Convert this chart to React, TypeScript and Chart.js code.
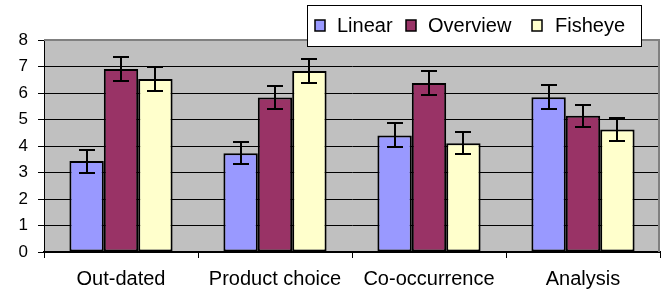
import React, { useEffect, useRef } from "react";
import { Chart, registerables } from "chart.js";

Chart.register(...registerables);

const categories = ["Out-dated", "Product choice", "Co-occurrence", "Analysis"];
const seriesNames = ["Linear", "Overview", "Fisheye"];
const linearValues = [3.43, 3.73, 4.4, 5.84];
const overviewValues = [6.91, 5.83, 6.38, 5.14];
const fisheyeValues = [6.53, 6.83, 4.1, 4.62];
const linearErrors = [0.43, 0.42, 0.45, 0.45];
const overviewErrors = [0.45, 0.42, 0.46, 0.42];
const fisheyeErrors = [0.46, 0.46, 0.42, 0.44];
const yTicks = [0, 1, 2, 3, 4, 5, 6, 7, 8];
const colors = ["#9999FF", "#993366", "#FFFFCC"];

const FONT = "'Liberation Sans', Arial, sans-serif";

export default function App() {
  const ref = useRef<HTMLCanvasElement | null>(null);

  useEffect(() => {
    document.body.style.margin = "0";
    const canvas = ref.current;
    if (!canvas) return;
    const errors = [linearErrors, overviewErrors, fisheyeErrors];
    const values = [linearValues, overviewValues, fisheyeValues];

    const bgPlugin = {
      id: "bg",
      beforeDraw(chart: any) {
        const { ctx, chartArea: a } = chart;
        ctx.save();
        ctx.fillStyle = "#FFFFFF";
        ctx.fillRect(0, 0, chart.width, chart.height);
        ctx.fillStyle = "#C0C0C0";
        ctx.fillRect(a.left, a.top, a.right - a.left, a.bottom - a.top);
        ctx.restore();
      },
    };

    const errPlugin = {
      id: "err",
      afterDatasetsDraw(chart: any) {
        const { ctx } = chart;
        const ys = chart.scales.y;
        ctx.save();
        ctx.strokeStyle = "#000000";
        ctx.lineWidth = 2;
        chart.data.datasets.forEach((ds: any, di: number) => {
          const meta = chart.getDatasetMeta(di);
          meta.data.forEach((el: any, i: number) => {
            const v = values[di][i];
            const e = errors[di][i];
            const x = Math.round(el.x);
            const yt = Math.round(ys.getPixelForValue(v + e));
            const yb = Math.round(ys.getPixelForValue(v - e));
            ctx.beginPath();
            ctx.moveTo(x, yt);
            ctx.lineTo(x, yb);
            ctx.moveTo(x - 8, yt);
            ctx.lineTo(x + 8, yt);
            ctx.moveTo(x - 8, yb);
            ctx.lineTo(x + 8, yb);
            ctx.stroke();
          });
        });
        ctx.restore();
      },
    };

    const legendPlugin = {
      id: "customLegend",
      afterDraw(chart: any) {
        const { ctx, chartArea: a } = chart;
        ctx.save();
        ctx.strokeStyle = "#808080";
        ctx.lineWidth = 2;
        ctx.beginPath();
        ctx.moveTo(a.left, a.top);
        ctx.lineTo(a.right - 1, a.top);
        ctx.lineTo(a.right - 1, a.bottom);
        ctx.stroke();
        const bx = 307.5, by = 5.5, bw = 334, bh = 41;
        ctx.fillStyle = "#FFFFFF";
        ctx.fillRect(bx, by, bw, bh);
        ctx.strokeStyle = "#000000";
        ctx.lineWidth = 1;
        ctx.strokeRect(bx, by, bw, bh);
        ctx.font = "20px " + FONT;
        ctx.textBaseline = "middle";
        const swatchX = [315, 406, 532];
        const textX = [337, 428, 555];
        chart.data.datasets.forEach((ds: any, i: number) => {
          ctx.fillStyle = ds.backgroundColor;
          ctx.fillRect(swatchX[i], 20, 10, 11);
          ctx.lineWidth = 1.5;
          ctx.strokeStyle = "#000000";
          ctx.strokeRect(swatchX[i], 20, 10, 11);
          ctx.fillStyle = "#000000";
          ctx.fillText(ds.label, textX[i], 26);
        });
        ctx.restore();
      },
    };

    const chart = new Chart(canvas, {
      type: "bar",
      data: {
        labels: categories,
        datasets: seriesNames.map((name, i) => ({
          label: name,
          data: values[i],
          backgroundColor: colors[i],
          borderColor: "#000000",
          borderWidth: 2,
          borderSkipped: false,
          categoryPercentage: 0.67,
          barPercentage: 1.0,
        })),
      },
      options: {
        responsive: false,
        animation: false,
        layout: { padding: { top: 40, right: 2, left: 0, bottom: 0 } },
        plugins: {
          legend: { display: false },
          tooltip: { enabled: false },
        },
        scales: {
          x: {
            afterFit(scale: any) {
              scale.height = 40;
            },
            grid: {
              offset: true,
              drawOnChartArea: false,
              drawTicks: true,
              tickLength: 6,
              color: "#000000",
              lineWidth: 1,
            },
            border: { color: "#000000", width: 2 },
            ticks: {
              color: "#000000",
              font: { family: FONT, size: 20 },
              padding: 9,
              maxRotation: 0,
              autoSkip: false,
            },
          },
          y: {
            min: 0,
            max: 8,
            afterFit(scale: any) {
              scale.width = 44;
            },
            afterBuildTicks(scale: any) {
              scale.ticks = yTicks.map((v) => ({ value: v }));
            },
            grid: {
              color: "#000000",
              lineWidth: 1,
              tickLength: 6,
            },
            border: { color: "#000000", width: 1 },
            ticks: {
              color: "#000000",
              font: { family: FONT, size: 17 },
              padding: 10,
            },
          },
        },
      },
      plugins: [bgPlugin, errPlugin, legendPlugin],
    });

    return () => chart.destroy();
  }, []);

  return (
    <div style={{ position: "fixed", left: 0, top: 0, width: 662, height: 292 }}>
      <canvas ref={ref} width={662} height={292} style={{ width: 662, height: 292 }} />
    </div>
  );
}
